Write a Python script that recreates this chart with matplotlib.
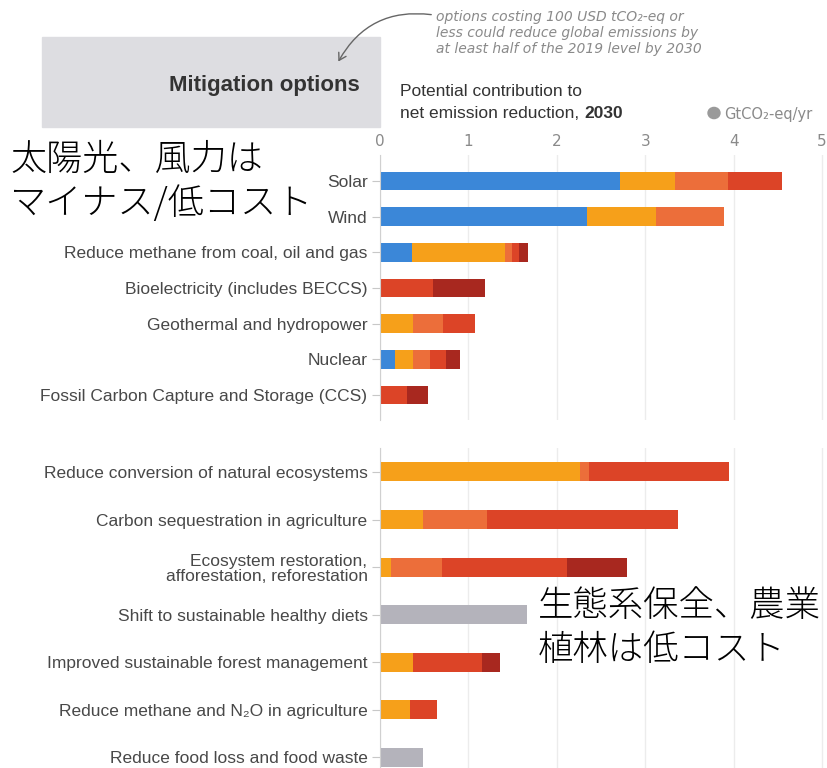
import matplotlib
matplotlib.use("Agg")
import matplotlib.pyplot as plt
from matplotlib.patches import Rectangle, FancyArrowPatch, Circle

# energy options (top block), GtCO2-eq/yr per cost band
energy_options = ["Solar", "Wind", "Reduce methane from coal, oil and gas",
                  "Bioelectricity (includes BECCS)", "Geothermal and hydropower",
                  "Nuclear", "Fossil Carbon Capture and Storage (CCS)"]
energy_negative = [2.72, 2.34, 0.36, 0.00, 0.00, 0.17, 0.00]
energy_0_20 = [0.62, 0.78, 1.05, 0.00, 0.37, 0.20, 0.00]
energy_20_50 = [0.60, 0.77, 0.08, 0.00, 0.34, 0.20, 0.00]
energy_50_100 = [0.61, 0.00, 0.08, 0.60, 0.36, 0.18, 0.30]
energy_100_200 = [0.00, 0.00, 0.10, 0.59, 0.00, 0.15, 0.24]
energy_nocost = [0, 0, 0, 0, 0, 0, 0]

# land / food options (bottom block)
land_options = ["Reduce conversion of natural ecosystems",
                "Carbon sequestration in agriculture",
                "Ecosystem restoration,\nafforestation, reforestation",
                "Shift to sustainable healthy diets",
                "Improved sustainable forest management",
                "Reduce methane and N\u2082O in agriculture",
                "Reduce food loss and food waste"]
land_negative = [0, 0, 0, 0, 0, 0, 0]
land_0_20 = [2.26, 0.49, 0.13, 0.00, 0.37, 0.34, 0.00]
land_20_50 = [0.10, 0.72, 0.57, 0.00, 0.00, 0.00, 0.00]
land_50_100 = [1.59, 2.16, 1.42, 0.00, 0.78, 0.30, 0.00]
land_100_200 = [0.00, 0.00, 0.67, 0.00, 0.21, 0.00, 0.00]
land_nocost = [0.00, 0.00, 0.00, 1.66, 0.00, 0.00, 0.49]

x_ticks = [0, 1, 2, 3, 4, 5]
band_colors = ["#3b87d8", "#f6a01a", "#ec6e3a", "#dc4427", "#a8281f", "#b4b3bb"]

W, H = 827, 768
label_font = ["Liberation Sans Narrow", "Liberation Sans", "DejaVu Sans"]
jp_font = ["Noto Sans CJK JP", "DejaVu Sans"]


def fx(px):
    return px / W


def fy(py):
    return 1 - py / H


def draw_block(ax, labels, bands, bar_h):
    ypos = list(range(len(labels)))
    left = [0] * len(labels)
    for vals, col in zip(bands, band_colors):
        ax.barh(ypos, vals, left=left, height=bar_h, color=col, linewidth=0, zorder=2)
        left = [a + b for a, b in zip(left, vals)]
    ax.set_yticks(ypos)
    ax.set_yticklabels(labels, fontsize=12.5, color="#484848", family=label_font,
                       linespacing=1.0)
    ax.set_xlim(0, 447 / 88.4)
    ax.set_xticks(x_ticks)
    ax.grid(axis="x", color="#ececec", lw=1, zorder=0)
    for s in ["top", "right", "bottom"]:
        ax.spines[s].set_visible(False)
    ax.spines["left"].set_color("#d0d0d0")
    ax.tick_params(axis="y", length=6, color="#c8c8c8", pad=3)


fig = plt.figure(figsize=(W / 100, H / 100), dpi=100)

ax1 = fig.add_axes([fx(380), fy(420), 447 / W, 265 / H])
draw_block(ax1, energy_options,
           [energy_negative, energy_0_20, energy_20_50, energy_50_100, energy_100_200, energy_nocost],
           0.53)
ax1.set_ylim(6.7, -0.73)
ax1.xaxis.tick_top()
ax1.set_xticklabels([str(t) for t in x_ticks], fontsize=11, color="#8a8a8a",
                    family=["Liberation Sans Narrow", "DejaVu Sans"])
ax1.tick_params(axis="x", length=0, pad=4)

ax2 = fig.add_axes([fx(380), fy(768), 447 / W, 320 / H])
draw_block(ax2, land_options,
           [land_negative, land_0_20, land_20_50, land_50_100, land_100_200, land_nocost],
           0.40)
ax2.set_ylim(6.23, -0.505)
ax2.tick_params(axis="x", length=0, labelbottom=False, labeltop=False)

# header
fig.patches.append(Rectangle((fx(42), fy(127)), 338 / W, 90 / H,
                             transform=fig.transFigure, color="#dddde1", zorder=0))
fig.text(fx(360), fy(86), "Mitigation options", ha="right", va="center",
         fontsize=16, fontweight="bold", color="#333333", family=label_font)

fig.text(fx(400), fy(91), "Potential contribution to", ha="left", va="center",
         fontsize=12.5, color="#333333", family=label_font)
t = fig.text(fx(400), fy(114), "net emission reduction, ", ha="left", va="center",
             fontsize=12.5, color="#333333", family=label_font)
plt.annotate("2030", xy=(1, 0.5), xycoords=t, ha="left", va="center",
             fontsize=12.5, fontweight="bold", color="#333333", family=label_font,
             annotation_clip=False)

fig.patches.append(Circle((fx(714), fy(113)), 6 / W, transform=fig.transFigure,
                          color="#9a9a9a", zorder=3))
fig.text(fx(724), fy(114), "GtCO\u2082-eq/yr", ha="left", va="center",
         fontsize=10.5, color="#8a8a8a", family=["Liberation Sans Narrow", "DejaVu Sans"])

note = ("options costing 100 USD tCO\u2082-eq or\n"
        "less could reduce global emissions by\n"
        "at least half of the 2019 level by 2030")
fig.text(fx(436), fy(33), note, ha="left", va="center", fontsize=10,
         style="italic", color="#8a8a8a", linespacing=1.2,
         family=["DejaVu Sans"])
fig.add_artist(FancyArrowPatch((fx(434), fy(15)), (fx(337), fy(64)),
                               transform=fig.transFigure,
                               connectionstyle="arc3,rad=0.35",
                               arrowstyle="->,head_length=5,head_width=3",
                               color="#666666", lw=1))

# Japanese overlay notes
fig.text(fx(10), fy(182), "太陽光、風力は\nマイナス/低コスト", ha="left", va="center",
         fontsize=26, fontweight="light", color="black", family=jp_font,
         linespacing=1.2, zorder=10)
fig.text(fx(538), fy(628), "生態系保全、農業\n植林は低コスト", ha="left", va="center",
         fontsize=25.5, fontweight="light", color="black", family=jp_font,
         linespacing=1.2, zorder=10)

fig.savefig("out.png", dpi=100)
